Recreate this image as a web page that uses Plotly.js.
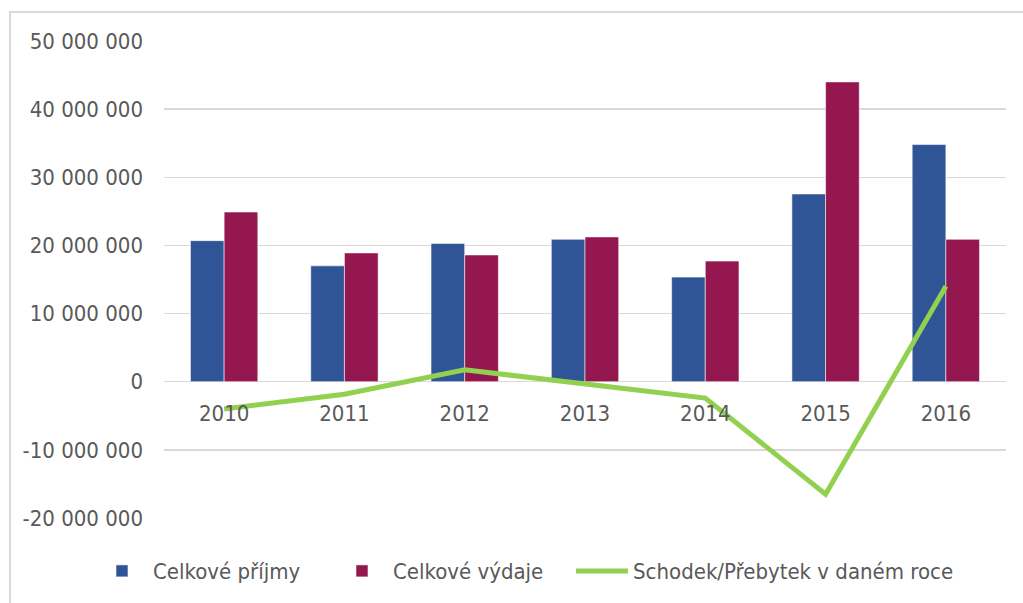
<!DOCTYPE html>
<html>
<head>
<meta charset="utf-8">
<script src="https://cdn.plot.ly/plotly-3.0.1.min.js"></script>
<style>
  html, body { margin: 0; padding: 0; background: #fff; }
  #wrap { position: relative; width: 1023px; height: 603px; }
  #chart { width: 1023px; height: 603px; }
  #frame { position: absolute; left: 9px; top: 11px; width: 1030px; height: 620px;
           border-top: 2px solid #d9d9d9; border-left: 2px solid #d9d9d9; pointer-events: none; }
</style>
</head>
<body>
<div id="wrap">
  <div id="chart"></div>
  <div id="frame"></div>
</div>
<script>
const years = ['2010', '2011', '2012', '2013', '2014', '2015', '2016'];
const prijmy = [20700000, 17000000, 20300000, 20900000, 15350000, 27550000, 34800000];
const vydaje = [24900000, 18900000, 18600000, 21250000, 17700000, 44000000, 20900000];
const saldo = [-4000000, -1850000, 1750000, -400000, -2400000, -16500000, 14000000];
const yTicks = [-20000000, -10000000, 0, 10000000, 20000000, 30000000, 40000000, 50000000];
const yTickText = ['-20 000 000', '-10 000 000', '0', '10 000 000', '20 000 000', '30 000 000', '40 000 000', '50 000 000'];

const FONT = '"DejaVu Sans Condensed", "DejaVu Sans", sans-serif';
const TXT = '#595959';

const traces = [
  {
    type: 'bar', name: 'Celkové příjmy', x: years, y: prijmy, legend: 'legend',
    marker: { color: '#2F5597', line: { color: 'rgba(255,255,255,0.55)', width: 1 } }
  },
  {
    type: 'bar', name: 'Celkové výdaje', x: years, y: vydaje, legend: 'legend',
    marker: { color: '#94174F', line: { color: 'rgba(255,255,255,0.55)', width: 1 } }
  },
  {
    type: 'scatter', mode: 'lines', name: 'Schodek/Přebytek v daném roce', x: years, y: saldo,
    legend: 'legend2',
    line: { color: '#92D050', width: 5 }
  }
];

const legendFont = { family: FONT, size: 22, color: TXT };

const layout = {
  width: 1023, height: 603,
  margin: { l: 164, r: 17, t: 41, b: 84 },
  paper_bgcolor: '#ffffff', plot_bgcolor: '#ffffff',
  font: { family: FONT, size: 22, color: TXT },
  barmode: 'group', bargap: 0.44, bargroupgap: 0,
  showlegend: true,
  xaxis: {
    type: 'category', anchor: 'free', position: 2 / 7,
    showgrid: false, showline: false, zeroline: false, ticks: '',
    ticklabelstandoff: 16,
    tickfont: { family: FONT, size: 22, color: TXT }
  },
  yaxis: {
    range: [-20000000, 50000000], tickvals: yTicks, ticktext: yTickText,
    showgrid: true, gridcolor: '#d9d9d9', gridwidth: 1.5,
    zeroline: true, zerolinecolor: '#d9d9d9', zerolinewidth: 1.5,
    showline: false, ticks: '', ticklabelstandoff: 20,
    tickfont: { family: FONT, size: 22, color: TXT }
  },
  legend: {
    orientation: 'h', x: -0.0867, xanchor: 'left', y: -0.109, yanchor: 'middle',
    entrywidth: 173, entrywidthmode: 'pixels', itemwidth: 52,
    font: legendFont, traceorder: 'normal'
  },
  legend2: {
    orientation: 'h', x: 0.4834, xanchor: 'left', y: -0.109, yanchor: 'middle',
    itemwidth: 52, font: legendFont
  }
};

Plotly.newPlot('chart', traces, layout, { displayModeBar: false, staticPlot: true });
</script>
</body>
</html>
